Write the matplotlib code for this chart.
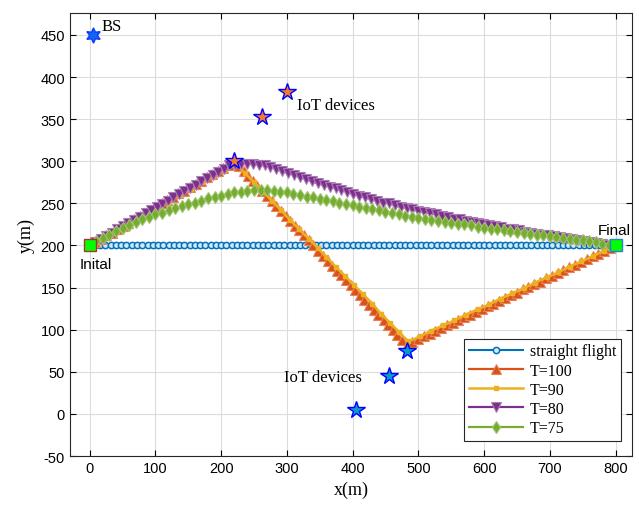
import matplotlib.pyplot as plt

plt.rcParams['axes.unicode_minus'] = False

# straight flight along y = 200
straight_x = [0, 8, 16, 24, 32, 40, 48, 56, 64, 72, 80, 88, 96, 104, 112, 120, 128, 136, 144, 152,
              160, 168, 176, 184, 192, 200, 208, 216, 224, 232, 240, 248, 256, 264, 272, 280, 288,
              296, 304, 312, 320, 328, 336, 344, 352, 360, 368, 376, 384, 392, 400, 408, 416, 424,
              432, 440, 448, 456, 464, 472, 480, 488, 496, 504, 512, 520, 528, 536, 544, 552, 560,
              568, 576, 584, 592, 600, 608, 616, 624, 632, 640, 648, 656, 664, 672, 680, 688, 696,
              704, 712, 720, 728, 736, 744, 752, 760, 768, 776, 784, 792, 800]
straight_y = [200] * len(straight_x)

# T=100
t100_x = [0, 8, 17, 25, 34, 42, 51, 59, 68, 76, 85, 93, 102, 110, 118, 127, 135, 144, 152, 161,
          169, 178, 186, 195, 203, 212, 220,
          227, 234, 241, 248, 255, 262, 270, 277, 284, 291, 298, 305, 312, 319, 326, 333, 340,
          347, 355, 362, 369, 376, 383, 390, 397, 404, 411, 418, 425, 432, 439, 447, 454, 461,
          468, 475, 482,
          491, 500, 508, 517, 526, 535, 544, 553, 561, 570, 579, 588, 597, 606, 614, 623, 632,
          641, 650, 659, 667, 676, 685, 694, 703, 712, 720, 729, 738, 747, 756, 765, 773, 782,
          791, 800]
t100_y = [200, 204, 208, 212, 215, 219, 223, 227, 231, 235, 238, 242, 246, 250, 254, 258, 262,
          265, 269, 273, 277, 281, 285, 288, 292, 296, 300,
          294, 288, 282, 276, 271, 265, 259, 253, 247, 241, 235, 229, 223, 218, 212, 206, 200,
          194, 188, 182, 176, 170, 165, 159, 153, 147, 141, 135, 129, 123, 117, 112, 106, 100,
          94, 88, 82,
          85, 89, 92, 95, 98, 102, 105, 108, 112, 115, 118, 121, 125, 128, 131, 134, 138, 141,
          144, 148, 151, 154, 157, 161, 164, 167, 171, 174, 177, 180, 184, 187, 190, 193, 197,
          200]

# T=90
t90_x = [0, 17, 34, 51, 68, 85, 102, 120, 137, 154, 171, 188, 205, 222,
         236, 250, 264, 277, 291, 305, 319, 333, 347, 360, 374, 388, 402, 416, 430, 443, 457,
         471, 485,
         503, 520, 538, 555, 573, 590, 608, 625, 643, 660, 678, 695, 713, 730, 748, 765, 783, 800]
t90_y = [200, 207, 215, 222, 230, 237, 245, 252, 260, 267, 275, 282, 290, 297,
         286, 275, 264, 253, 242, 230, 219, 208, 197, 186, 175, 164, 153, 142, 131, 119, 108,
         97, 86,
         92, 99, 105, 111, 118, 124, 130, 137, 143, 149, 156, 162, 168, 175, 181, 187, 194, 200]

# T=80
t80_x = [0, 8, 17, 25, 34, 42, 51, 59, 68, 76, 85, 93, 102, 110, 119, 127, 136, 144, 153, 161,
         170, 178, 187, 195, 204, 212, 221, 230, 239, 248, 257, 266, 275, 284, 293, 302, 311,
         320, 329, 338, 347, 356, 365, 374, 383, 392, 401, 410, 419, 428, 437, 446, 455, 464,
         473, 482, 491, 500, 509, 518, 527, 536, 545, 554, 563, 572, 581, 590, 599, 608, 617,
         626, 635, 644, 653, 662, 671, 680, 689, 698, 707, 716, 725, 734, 743, 752, 761, 770,
         779, 788, 800]
t80_y = [200, 204, 208, 211, 215, 219, 223, 227, 230, 234, 238, 242, 246, 249, 253, 257, 261,
         265, 268, 272, 276, 280, 284, 287, 291, 295, 296, 297, 297, 297, 296, 295, 293, 291,
         288, 286, 284, 281, 279, 276, 274, 272, 270, 268, 266, 264, 261, 259, 257, 255, 253,
         251, 250, 248, 246, 245, 243, 241, 240, 238, 237, 235, 234, 232, 231, 229, 228, 227,
         225, 224, 223, 222, 220, 219, 218, 216, 215, 214, 213, 212, 211, 210, 209, 208, 207,
         205, 204, 203, 202, 201, 200]

# T=75
t75_x = [0, 10, 20, 30, 40, 50, 60, 70, 80, 90, 100, 110, 120, 130, 140, 150, 160, 170, 180,
         190, 200, 210, 220, 230, 240, 250, 260, 270, 280, 290, 300, 310, 320, 330, 340, 350,
         360, 370, 380, 390, 400, 410, 420, 430, 440, 450, 460, 470, 480, 490, 500, 510, 520,
         530, 540, 550, 560, 570, 580, 590, 600, 610, 620, 630, 640, 650, 660, 670, 680, 690,
         700, 710, 720, 730, 740, 750, 760, 770, 780, 790, 800]
t75_y = [200, 205, 209, 213, 217, 221, 224, 228, 231, 234, 237, 239, 242, 244, 247, 249, 251,
         253, 256, 258, 259, 261, 263, 264, 265, 266, 266, 266, 265, 264, 263, 261, 260, 258,
         257, 255, 254, 253, 251, 249, 248, 246, 245, 243, 242, 240, 238, 237, 235, 234, 233,
         232, 230, 229, 228, 227, 226, 225, 224, 222, 221, 220, 219, 218, 217, 216, 215, 214,
         213, 212, 211, 210, 209, 208, 207, 206, 205, 204, 202, 201, 200]

bs_xy = (5, 450)
iot_top_x = [220, 262, 300]
iot_top_y = [300, 352, 382]
iot_bot_x = [482, 455, 405]
iot_bot_y = [75, 45, 5]
start_xy = (0, 200)
final_xy = (800, 200)

blue = '#0072BD'
orange = '#D95319'
yellow = '#EDB120'
purple = '#7E2F8E'
green = '#77AC30'

serif = ['Liberation Serif', 'DejaVu Serif']
sans = ['Liberation Sans', 'DejaVu Sans']

fig = plt.figure(figsize=(6.39, 5.10), dpi=100)
ax = fig.add_axes([0.1095, 0.1039, 0.8795, 0.8686])

ax.plot(straight_x, straight_y, color=blue, lw=1.5, marker='o', ms=4.5,
        mfc='#d6e8f5', mec=blue, mew=1.1, label='straight flight')
ax.plot(t100_x, t100_y, color=orange, lw=1.6, marker='^', ms=6.5,
        mfc=orange, mec='#e8825a', mew=0.8, label='T=100')
ax.plot(t90_x, t90_y, color=yellow, lw=1.8, marker='s', ms=3,
        mfc=yellow, mec=yellow, label='T=90')
ax.plot(t80_x, t80_y, color=purple, lw=1.6, marker='v', ms=6.5,
        mfc=purple, mec='#a97fb3', mew=0.8, label='T=80')
ax.plot(t75_x, t75_y, color=green, lw=1.6, marker='d', ms=6.5,
        mfc=green, mec='#9cc66c', mew=0.8, label='T=75')

ax.plot(*bs_xy, linestyle='none', marker=(6, 1, 0), ms=11, mfc='#1565f0', mec='#0a3cff', mew=1)
ax.plot(iot_top_x, iot_top_y, linestyle='none', marker='*', ms=13, mfc='#f5792a', mec='#0000ff', mew=1)
ax.plot(iot_bot_x, iot_bot_y, linestyle='none', marker='*', ms=13, mfc='#0a9bc6', mec='#0000ff', mew=1)
ax.plot(*start_xy, linestyle='none', marker='s', ms=9, mfc='#00ff00', mec='#b03030', mew=1)
ax.plot(*final_xy, linestyle='none', marker='s', ms=9, mfc='#00ff00', mec='#2a7fd0', mew=1)

ax.text(18, 456, 'BS', family=serif, fontsize=12)
ax.text(316, 367, 'IoT devices', family=serif, fontsize=12, va='center')
ax.text(295, 44, 'IoT devices', family=serif, fontsize=12, va='center')
ax.text(-15, 178, 'Inital', family=sans, fontsize=11, va='center')
ax.text(773, 218, 'Final', family=sans, fontsize=11, va='center')

ax.set_xlim(-30, 825)
ax.set_ylim(-50, 476)
ax.set_xticks(range(0, 801, 100))
ax.set_yticks(range(-50, 451, 50))
ax.tick_params(direction='in', top=True, right=True, length=4, labelsize=10.5)
for lab in ax.get_xticklabels() + ax.get_yticklabels():
    lab.set_family(sans)
ax.grid(True, color='#dcdcdc', lw=0.8)
ax.set_axisbelow(True)
for sp in ax.spines.values():
    sp.set_color('#262626')
ax.set_xlabel('x(m)', family=serif, fontsize=13)
ax.set_ylabel('y(m)', family=serif, fontsize=13)

leg = ax.legend(loc='lower right', bbox_to_anchor=(0.9804, 0.034), borderaxespad=0,
                prop={'family': serif, 'size': 11.5},
                fancybox=False, framealpha=1, edgecolor='#262626', borderpad=0.3,
                labelspacing=0.2, handlelength=3.4, handletextpad=0.4)
leg.get_frame().set_linewidth(0.8)

fig.savefig('out.png', dpi=100)
